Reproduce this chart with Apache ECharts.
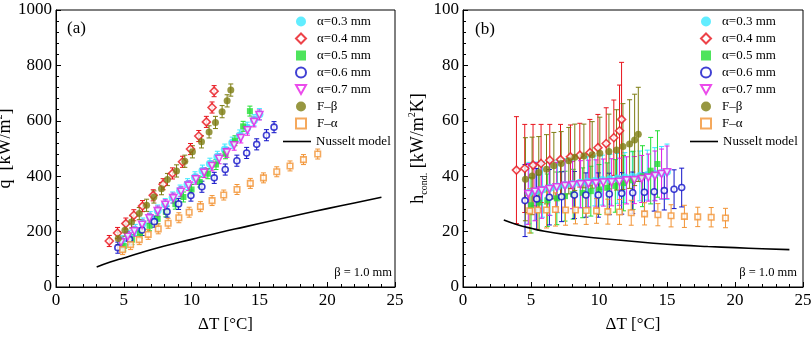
<!DOCTYPE html>
<html lang="en">
<head>
<meta charset="UTF-8">
<title>Condensation heat transfer</title>
<script src="https://cdn.jsdelivr.net/npm/echarts@6/dist/echarts.min.js"></script>
<style>
  body { margin: 0; background: #fff; }
  #main { width: 812px; height: 338px; }
</style>
</head>
<body>
<div id="main"></div>
<script>
// values: dT [°C], q [kW/m2] for (a), h [kW/m2K] and its error for (b)
const names = ['α=0.3 mm', 'α=0.4 mm', 'α=0.5 mm', 'α=0.6 mm', 'α=0.7 mm', 'F–β', 'F–α'];

const dT03 = [4.85, 5.35, 5.85, 6.40, 6.95, 7.50, 8.05, 8.60, 9.15, 9.70, 10.25, 10.80, 11.35, 11.90, 12.45, 13.00, 13.55, 14.10, 14.60, 15.00];
const q03 = [165, 185, 206, 229, 252, 276, 299, 323, 348, 371, 396, 420, 445, 470, 496, 521, 547, 575, 602, 624];
const h03 = [34.0, 34.6, 35.2, 35.8, 36.3, 36.8, 37.2, 37.6, 38.0, 38.3, 38.6, 38.9, 39.2, 39.5, 39.8, 40.1, 40.4, 40.8, 41.2, 41.6];
const hErr03 = [11, 10.5, 10, 10, 9.5, 9.5, 9, 9, 9, 9, 9, 9, 9, 9, 9, 9, 9, 9.5, 9.5, 10];

const dT04 = [3.93, 4.54, 5.15, 5.74, 6.38, 7.17, 7.90, 8.59, 9.33, 9.92, 10.53, 11.09, 11.51, 11.66];
const q04 = [166, 195, 229, 259, 292, 331, 371, 410, 452, 498, 545, 596, 648, 707];
const h04 = [42.2, 42.8, 44.0, 44.6, 45.8, 46.0, 47.0, 47.6, 48.5, 50.3, 51.8, 53.9, 56.4, 60.5];
const hErr04 = [19.3, 15.9, 14.7, 14.1, 12.9, 12.7, 11.5, 11.5, 12.0, 12.0, 12.9, 13.6, 16.5, 20.6];

const dT05 = [5.0, 5.6, 6.2, 6.9, 7.5, 8.1, 8.8, 9.4, 10.0, 10.6, 11.2, 11.8, 12.5, 13.2, 13.8, 14.3];
const q05 = [148, 171, 194, 221, 246, 271, 299, 325, 352, 379, 409, 442, 481, 528, 580, 635];
const h05 = [29.5, 30.5, 31.3, 32.0, 32.8, 33.5, 34.0, 34.6, 35.2, 35.8, 36.5, 37.5, 38.5, 40.0, 42.0, 44.4];
const hErr05 = [10, 10, 9.5, 9.5, 9, 9, 9, 9, 9, 9, 9.5, 10, 10.5, 11, 12, 12];

const dT06 = [4.56, 5.42, 6.35, 7.25, 8.19, 9.04, 9.95, 10.76, 11.67, 12.48, 13.34, 14.06, 14.80, 15.52, 16.08];
const q06 = [142, 172, 206, 236, 272, 300, 330, 362, 394, 424, 456, 484, 515, 548, 577];
const h06 = [31.2, 31.8, 32.4, 32.6, 33.2, 33.2, 33.2, 33.6, 33.8, 34.0, 34.2, 34.4, 34.8, 35.3, 35.9];
const hErr06 = [13, 11, 10, 9, 8.5, 8, 8, 7.5, 7.5, 7.5, 7, 7, 7, 7, 7];

const dT07 = [4.80, 5.29, 5.78, 6.35, 6.89, 7.50, 8.06, 8.65, 9.22, 9.78, 10.32, 10.93, 11.50, 12.03, 12.60, 13.14, 13.63, 14.12, 14.60, 15.00];
const q07 = [161, 182, 201, 225, 248, 274, 297, 321, 344, 366, 389, 413, 437, 463, 486, 512, 538, 566, 596, 621];
const h07 = [33.6, 34.4, 34.8, 35.4, 36.0, 36.5, 36.8, 37.1, 37.3, 37.4, 37.7, 37.8, 38.0, 38.5, 38.6, 39.0, 39.5, 40.1, 40.8, 41.4];
const hErr07 = [11, 10.5, 10, 9.5, 9, 9, 8.5, 8.5, 8.5, 8.5, 8.5, 8.5, 8.5, 8.5, 8.5, 8.5, 8.5, 9, 9, 9.5];

const dTFb = [4.59, 5.08, 5.57, 6.14, 6.68, 7.22, 7.78, 8.22, 8.89, 9.50, 10.06, 10.73, 11.29, 11.76, 12.25, 12.62, 12.89];
const qFb = [175, 205, 235, 265, 295, 325, 355, 388, 419, 454, 488, 524, 560, 594, 633, 672, 711];
const hFb = [38.9, 40.1, 41.3, 42.5, 43.8, 44.6, 45.6, 46.8, 47.3, 47.7, 48.3, 48.9, 49.5, 50.7, 51.6, 53.1, 55.1];
const hErrFb = [15, 14, 13, 12.5, 12, 11.5, 12, 12, 11.5, 12, 13, 13.5, 14.5, 15.5, 16, 16.5, 17];

const dTFa = [4.91, 5.50, 6.14, 6.80, 7.54, 8.27, 9.06, 9.82, 10.65, 11.51, 12.37, 13.35, 14.33, 15.30, 16.28, 17.26, 18.25, 19.30];
const qFa = [135, 153, 171, 190, 210, 230, 250, 270, 290, 312, 332, 352, 374, 394, 416, 437, 460, 480];
const hFa = [27.5, 27.8, 27.8, 28.0, 27.8, 27.8, 27.6, 27.5, 27.2, 27.1, 26.8, 26.4, 26.1, 25.7, 25.5, 25.3, 25.2, 24.9];
const hErrFa = [8, 7, 6.5, 6, 5.5, 5, 5, 4.5, 4.5, 4.5, 4.5, 4, 4, 4, 4, 3.5, 3.5, 3.5];

// error half-width in (a), about constant per series
const qErr = [20, 20, 18, 20, 18, 22, 18];

// Nusselt model curve
const dTNu = [3, 4, 5, 6, 8, 10, 12, 14, 16, 18, 20, 22, 24];
const qNu = [72, 90, 105, 120, 148, 172, 196, 218, 240, 262, 283, 303, 324];
const hNu = [24.2, 22.5, 21.2, 20.1, 18.7, 17.6, 16.7, 15.8, 15.1, 14.6, 14.2, 13.8, 13.5];

const dTs = [dT03, dT04, dT05, dT06, dT07, dTFb, dTFa];
const qs = [q03, q04, q05, q06, q07, qFb, qFa];
const hs = [h03, h04, h05, h06, h07, hFb, hFa];
const hErrs = [hErr03, hErr04, hErr05, hErr06, hErr07, hErrFb, hErrFa];

const font = "'Liberation Serif', 'Times New Roman', serif";

// marker look per series
const looks = [
  { color: '#3ae8ff', symbol: 'circle', hollow: false, size: 8 },
  { color: '#e8141c', symbol: 'diamond', hollow: true, size: 8 },
  { color: '#22dd33', symbol: 'rect', hollow: false, size: 6 },
  { color: '#1010c8', symbol: 'circle', hollow: true, size: 6 },
  { color: '#e61ee6', symbol: 'triangle', hollow: true, size: 7, rotate: 180 },
  { color: '#7d7d12', symbol: 'circle', hollow: false, size: 7 },
  { color: '#f29435', symbol: 'rect', hollow: true, size: 5.5 }
];

function errorBar(params, api) {
  const x = api.value(0);
  const lo = api.coord([x, api.value(1)]);
  const hi = api.coord([x, api.value(2)]);
  const c = 2.5;
  const style = { stroke: api.visual('color'), lineWidth: 1 };
  return {
    type: 'group',
    children: [
      { type: 'line', shape: { x1: lo[0], y1: lo[1], x2: hi[0], y2: hi[1] }, style: style },
      { type: 'line', shape: { x1: hi[0] - c, y1: hi[1], x2: hi[0] + c, y2: hi[1] }, style: style },
      { type: 'line', shape: { x1: lo[0] - c, y1: lo[1], x2: lo[0] + c, y2: lo[1] }, style: style }
    ]
  };
}

function scatterStyle(lk) {
  if (lk.hollow) return { color: '#fff', borderColor: lk.color, borderWidth: 1.6 };
  return { color: lk.color };
}

let series = [];
for (let panel = 0; panel < 2; panel++) {
  // error bars first so the markers sit on top
  for (let i = 0; i < names.length; i++) {
    let bars = dTs[i].map((x, k) => {
      let v = panel === 0 ? qs[i][k] : hs[i][k];
      let e = panel === 0 ? qErr[i] : hErrs[i][k];
      return [x, v - e, v + e];
    });
    series.push({
      type: 'custom',
      xAxisIndex: panel, yAxisIndex: panel,
      renderItem: errorBar,
      encode: { x: 0, y: [1, 2] },
      itemStyle: { color: looks[i].color, opacity: panel === 0 ? 1 : 0.8 },
      data: bars,
      silent: true,
      z: 1
    });
  }
  for (let i = 0; i < names.length; i++) {
    let lk = looks[i];
    series.push({
      name: names[i],
      type: 'scatter',
      xAxisIndex: panel, yAxisIndex: panel,
      symbol: lk.symbol,
      symbolSize: lk.size,
      symbolRotate: lk.rotate || 0,
      itemStyle: scatterStyle(lk),
      data: dTs[i].map((x, k) => [x, panel === 0 ? qs[i][k] : hs[i][k]]),
      z: 3
    });
  }
  series.push({
    name: 'Nusselt model',
    type: 'line',
    xAxisIndex: panel, yAxisIndex: panel,
    symbol: 'none',
    showSymbol: false,
    smooth: true,
    lineStyle: { color: '#000', width: 1.6 },
    itemStyle: { color: '#000' },
    data: dTNu.map((x, k) => [x, panel === 0 ? qNu[k] : hNu[k]]),
    z: 4
  });
}

function xAxisFor(idx) {
  return {
    gridIndex: idx, type: 'value', min: 0, max: 25, interval: 5,
    name: 'ΔT [°C]', nameLocation: 'middle', nameGap: 29,
    nameTextStyle: { fontFamily: font, fontSize: 17, color: '#000' },
    axisLine: { lineStyle: { color: '#000', width: 1 } },
    axisTick: { inside: true, length: 5, lineStyle: { color: '#000' } },
    minorTick: { show: true, splitNumber: 5, length: 3, lineStyle: { color: '#000' } },
    axisLabel: { fontFamily: font, fontSize: 17, color: '#000', margin: 5 },
    splitLine: { show: false }
  };
}

function yAxisFor(idx, max, step, name, gap) {
  return {
    gridIndex: idx, type: 'value', min: 0, max: max, interval: step,
    name: name, nameLocation: 'middle', nameGap: gap,
    nameTextStyle: {
      fontFamily: font, color: '#000',
      rich: {
        t: { fontFamily: font, fontSize: 18, color: '#000', lineHeight: 22 },
        p: { fontFamily: font, fontSize: 10, color: '#000', lineHeight: 10, verticalAlign: 'top' },
        b: { fontFamily: font, fontSize: 10, color: '#000', lineHeight: 10, verticalAlign: 'bottom' }
      }
    },
    axisLine: { lineStyle: { color: '#000', width: 1 } },
    axisTick: { inside: true, length: 5, lineStyle: { color: '#000' } },
    minorTick: { show: true, splitNumber: 5, length: 3, lineStyle: { color: '#000' } },
    axisLabel: { fontFamily: font, fontSize: 17, color: '#000', margin: 4, formatter: v => String(v) },
    splitLine: { show: false }
  };
}

// markers get a square icon box so they keep their shape; the model line gets its own wider box
const markerItems = names.map(n => n === 'α=0.7 mm' ? { name: n, icon: 'path://M0,0L10,0L5,9Z' } : { name: n });
function markerLegend(left) {
  return {
    left: left, top: 15, orient: 'vertical', padding: 0,
    itemWidth: 10, itemHeight: 10, itemGap: 4,
    data: markerItems,
    selectedMode: false,
    textStyle: { fontFamily: font, fontSize: 13, color: '#000', padding: [0, 0, 0, 6] }
  };
}
function lineLegend(left) {
  return {
    left: left, top: 135, orient: 'vertical', padding: 0,
    itemWidth: 28, itemHeight: 10,
    data: [{ name: 'Nusselt model', icon: 'path://M0,0L28,0L28,1.6L0,1.6Z' }],
    selectedMode: false,
    textStyle: { fontFamily: font, fontSize: 13, color: '#000' }
  };
}

let myChart = echarts.init(document.getElementById('main'));
myChart.setOption({
  animation: false,
  backgroundColor: '#fff',
  grid: [
    { left: 56, right: 417, top: 10, bottom: 51, show: true, borderColor: '#000', borderWidth: 1, outerBoundsMode: 'none', containLabel: false },
    { left: 463, right: 9, top: 10, bottom: 51, show: true, borderColor: '#000', borderWidth: 1, outerBoundsMode: 'none', containLabel: false }
  ],
  xAxis: [xAxisFor(0), xAxisFor(1)],
  yAxis: [
    yAxisFor(0, 1000, 200, '{t|q  [kW/m}{p|2}{t|]}', 30),
    yAxisFor(1, 100, 20, '{t|h}{b|cond.}{t| [kW/m}{p|2}{t|K]}', 26)
  ],
  legend: [markerLegend(295), lineLegend(283), markerLegend(700), lineLegend(690)],
  graphic: [
    { type: 'text', x: 67, y: 29, style: { text: '(a)', font: '17px ' + font, fill: '#000', verticalAlign: 'middle' } },
    { type: 'text', x: 475, y: 30, style: { text: '(b)', font: '17px ' + font, fill: '#000', verticalAlign: 'middle' } },
    { type: 'text', x: 392, y: 273, style: { text: 'β = 1.0 mm', font: '12.5px ' + font, fill: '#000', align: 'right', verticalAlign: 'middle' } },
    { type: 'text', x: 797, y: 273, style: { text: 'β = 1.0 mm', font: '12.5px ' + font, fill: '#000', align: 'right', verticalAlign: 'middle' } }
  ],
  series: series
});
</script>
</body>
</html>
